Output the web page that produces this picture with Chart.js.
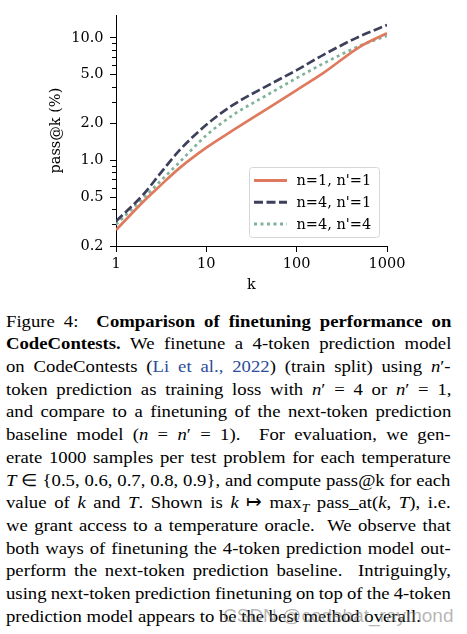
<!DOCTYPE html>
<html>
<head>
<meta charset="utf-8">
<script src="https://cdn.jsdelivr.net/npm/chart.js@4"></script>
<style>
  html, body { margin: 0; padding: 0; background: #fff; }
  body { width: 467px; height: 634px; position: relative; overflow: hidden; }
  #plot { position: absolute; left: 0; top: 0; width: 467px; height: 300px; }
  #caption {
    position: absolute; left: 6px; top: 310.6px; width: 404.5px;
    transform: scaleX(1.1); transform-origin: 0 0;
    font-family: "Liberation Serif", "Times New Roman", Times, serif; font-size: 17px;
    line-height: 22.7px; color: #000;
  }
  .ln { white-space: nowrap; }
  .ln > span { display: inline-block; white-space: nowrap; }
  .cite { color: #2b4c9b; }
  sub { font-size: 0.72em; vertical-align: baseline; position: relative; top: 0.3em; line-height: 0; }
  #mark {
    position: absolute; left: 223px; top: 606px;
    font-family: "Liberation Sans", Arial, sans-serif; font-size: 19px; line-height: 19px;
    color: rgba(120,120,120,0.55); white-space: nowrap;
  }
</style>
</head>
<body>
<canvas id="plot" width="467" height="300"></canvas>

<div id="caption">
<div class="ln">Figure 4:&nbsp; <b>Comparison of finetuning performance on</b></div>
<div class="ln"><b>CodeContests.</b> We finetune a 4-token prediction model</div>
<div class="ln">on CodeContests (<span class="cite">Li et al., 2022</span>) (train split) using <i>n</i>′-</div>
<div class="ln">token prediction as training loss with <i>n</i>′ = 4 or <i>n</i>′ = 1,</div>
<div class="ln">and compare to a finetuning of the next-token prediction</div>
<div class="ln">baseline model (<i>n</i> = <i>n</i>′ = 1).&nbsp; For evaluation, we gen-</div>
<div class="ln">erate 1000 samples per test problem for each temperature</div>
<div class="ln"><i>T</i> ∈ {0.5, 0.6, 0.7, 0.8, 0.9}, and compute pass@k for each</div>
<div class="ln">value of <i>k</i> and <i>T</i>. Shown is <i>k</i> ↦ max<sub><i>T</i></sub> pass_at(<i>k</i>, <i>T</i>), i.e.</div>
<div class="ln">we grant access to a temperature oracle.&nbsp; We observe that</div>
<div class="ln">both ways of finetuning the 4-token prediction model out-</div>
<div class="ln">perform the next-token prediction baseline.&nbsp; Intriguingly,</div>
<div class="ln">using next-token prediction finetuning on top of the 4-token</div>
<div class="ln last">prediction model appears to be the best method overall.</div>
</div>
<div id="mark">CSDN @codebat_raymond</div>

<script>
// k values on the x axis, pass@k (%) per run
const kValues   = [1, 2, 3, 5, 10, 20, 50, 100, 200, 500, 1000];
const passN1P1  = [0.27, 0.46, 0.61, 0.86, 1.27, 1.77, 2.71, 3.75, 5.2, 8.45, 10.9];
const passN4P1  = [0.318, 0.525, 0.76, 1.2, 1.95, 2.85, 4.15, 5.45, 7.3, 10.3, 12.7];
const passN4P4  = [0.30, 0.49, 0.66, 0.96, 1.6, 2.36, 3.5, 4.7, 6.2, 8.6, 10.4];
const seriesLabels = ["n=1, n'=1", "n=4, n'=1", "n=4, n'=4"];
const xTicks      = [1, 10, 100, 1000];
const yMajorTicks = [0.2, 0.5, 1, 2, 5, 10];
const yMinorTicks = [0.3, 0.4, 0.6, 0.7, 0.8, 0.9, 3, 4, 6, 7, 8, 9];

const FONT = 'DejaVu Serif';
const colors = ['#E07A5F', '#3D405B', '#81B29A'];
const dashes = [[], [9, 3.5], [3, 3.5]];

const pts = arr => kValues.map((k, i) => ({ x: k, y: arr[i] }));

function mkDataset(label, data, i) {
    return { label, data: pts(data), borderColor: colors[i], borderWidth: 2.7,
        borderDash: dashes[i], borderCapStyle: 'butt', pointRadius: 0,
        cubicInterpolationMode: 'monotone', fill: false };
}

// short minor ticks on the log y axis
const minorTicks = {
    id: 'minorTicks',
    afterDraw(chart) {
        const y = chart.scales.y, ctx = chart.ctx;
        ctx.save();
        ctx.strokeStyle = '#000';
        ctx.lineWidth = 1;
        yMinorTicks.forEach(v => {
            const py = Math.round(y.getPixelForValue(v)) + 0.5;
            ctx.beginPath();
            ctx.moveTo(y.right - 4, py);
            ctx.lineTo(y.right, py);
            ctx.stroke();
        });
        ctx.restore();
    }
};

// matplotlib-like framed legend in the lower right
const boxLegend = {
    id: 'boxLegend',
    afterDatasetsDraw(chart) {
        const a = chart.chartArea, ctx = chart.ctx;
        const w = 130, h = 70;
        const x0 = a.right - 8 - w, y0 = a.bottom - 9 - h;
        ctx.save();
        ctx.beginPath();
        ctx.roundRect(x0 + 0.5, y0 + 0.5, w, h, 3);
        ctx.fillStyle = 'rgba(255,255,255,0.85)';
        ctx.fill();
        ctx.strokeStyle = '#d6d6d6';
        ctx.lineWidth = 1;
        ctx.stroke();
        ctx.font = '14.5px "' + FONT + '"';
        ctx.textBaseline = 'middle';
        ctx.fillStyle = '#000';
        chart.data.datasets.forEach((ds, i) => {
            const yy = y0 + 13.5 + i * 21.7;
            ctx.beginPath();
            ctx.setLineDash(dashes[i]);
            ctx.lineCap = 'butt';
            ctx.strokeStyle = colors[i];
            ctx.lineWidth = 3;
            ctx.moveTo(x0 + 5, yy);
            ctx.lineTo(x0 + 38, yy);
            ctx.stroke();
            ctx.setLineDash([]);
            ctx.fillText(ds.label, x0 + 47.5, yy + 1);
        });
        ctx.restore();
    }
};

new Chart(document.getElementById('plot'), {
    type: 'line',
    data: { datasets: [
        mkDataset(seriesLabels[0], passN1P1, 0),
        mkDataset(seriesLabels[1], passN4P1, 1),
        mkDataset(seriesLabels[2], passN4P4, 2)
    ] },
    options: {
        responsive: false,
        animation: false,
        layout: { padding: { left: 0, right: 80, top: 13, bottom: 0 } },
        plugins: { legend: { display: false }, tooltip: { enabled: false } },
        scales: {
            x: {
                type: 'logarithmic', min: 1, max: 1000,
                afterBuildTicks: s => { s.ticks = xTicks.map(v => ({ value: v })); },
                afterFit: s => { s.height = 54; },
                ticks: { color: '#000', font: { family: FONT, size: 14.5 }, padding: 4,
                    maxRotation: 0, autoSkip: false, callback: v => String(v) },
                grid: { drawOnChartArea: false, tickLength: 6, tickColor: '#000', tickWidth: 1 },
                border: { color: '#000', width: 1 },
                title: { display: true, text: 'k', color: '#000',
                    font: { family: FONT, size: 14.5 }, padding: { top: 0, bottom: 6 } }
            },
            y: {
                type: 'logarithmic', min: 0.2, max: 15.3,
                afterBuildTicks: s => { s.ticks = yMajorTicks.map(v => ({ value: v })); },
                afterFit: s => { s.width = 116; },
                ticks: { color: '#000', font: { family: FONT, size: 14.5 }, padding: 6.5,
                    autoSkip: false, callback: v => Number(v).toFixed(1) },
                grid: { drawOnChartArea: false, tickLength: 6, tickColor: '#000', tickWidth: 1 },
                border: { color: '#000', width: 1 },
                title: { display: true, text: 'pass@k (%)', color: '#000',
                    font: { family: FONT, size: 14.5 }, padding: { top: 48, bottom: 0 } }
            }
        }
    },
    plugins: [minorTicks, boxLegend]
});

// justify each caption line to the column width
function fitLines() {
    const target = 404.5;
    document.querySelectorAll('#caption .ln').forEach(ln => {
        ln.innerHTML = '<span>' + ln.innerHTML + '</span>';
        if (ln.classList.contains('last')) return;
        const span = ln.firstChild;
        const gaps = (span.textContent.match(/[ \u00a0]/g) || []).length;
        if (gaps) span.style.wordSpacing = ((target - span.offsetWidth) / gaps) + 'px';
    });
}
if (document.fonts && document.fonts.ready) document.fonts.ready.then(fitLines); else fitLines();
</script>
</body>
</html>
